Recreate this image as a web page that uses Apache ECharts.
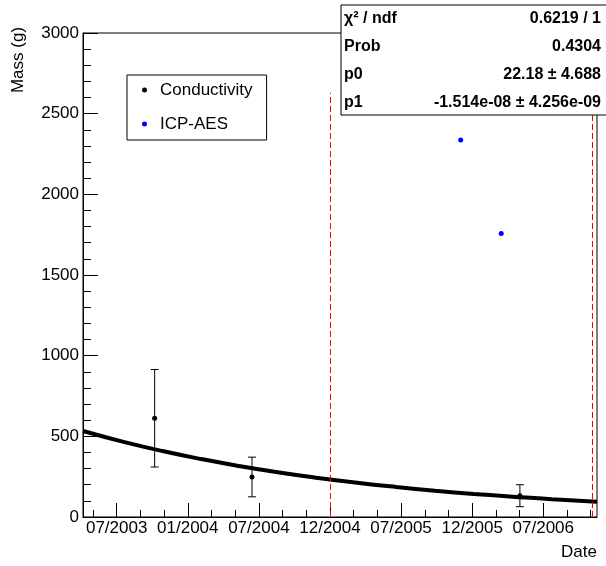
<!DOCTYPE html>
<html>
<head>
<meta charset="utf-8">
<script src="https://cdn.jsdelivr.net/npm/echarts@6/dist/echarts.min.js"></script>
<style>
html,body{margin:0;padding:0;background:#fff;}
#chart{width:606px;height:566px;}
</style>
</head>
<body>
<div id="chart"></div>
<script>
// ---- data (dates) ----
const axisStart = '2003-04-07';
const axisEnd = '2006-11-17';
const condDates = ['2003-10-08', '2004-06-14', '2006-05-03'];
const condMass = [612, 248, 132];
const condErr = [302, 123, 68];
const icpDates = ['2005-12-02', '2006-03-16'];
const icpMass = [2337, 1758];
const lineDates = ['2005-01-01', '2006-11-04'];
const lineTop = 2630;
// fit curve: [days since 2003-01-01, mass]
const fitDays = [96, 200, 300, 400, 500, 600, 700, 800, 900, 1000, 1100, 1200, 1300, 1416];
const fitMass = [533, 466, 409, 359, 315, 276, 242, 212, 186, 163, 143, 126, 110, 95];
const tickLabels = ['07/2003', '01/2004', '07/2004', '12/2004', '07/2005', '12/2005', '07/2006'];
const firstTickDay = 182.5;
const tickStepDays = 182.6;
const statsRows = [
  ['\u03C7\u00B2 / ndf', '0.6219 / 1'],
  ['Prob', '0.4304'],
  ['p0', '22.18 \u00B1 4.688'],
  ['p1', '-1.514e-08 \u00B1 4.256e-09']
];

// ---- helpers ----
const ref = Date.UTC(2003, 0, 1);
function toDay(s) {
  const p = s.split('-').map(Number);
  return (Date.UTC(p[0], p[1] - 1, p[2]) - ref) / 86400000;
}
const xMin = toDay(axisStart), xMax = toDay(axisEnd);
const majorTicks = tickLabels.map((_, i) => firstTickDay + i * tickStepDays);
const minorTicks = [];
for (let i = -1; i < tickLabels.length; i++) {
  for (let j = 1; j <= 2; j++) {
    const v = firstTickDay + (i + j / 3) * tickStepDays;
    if (v > xMin && v < xMax) minorTicks.push(v);
  }
}
function labelFor(v) {
  let best = 0, bd = Infinity;
  majorTicks.forEach((t, i) => { const d = Math.abs(t - v); if (d < bd) { bd = d; best = i; } });
  return tickLabels[best];
}

const FONT = '"Liberation Sans", Arial, Helvetica, sans-serif';
const condData = condDates.map((d, i) => [toDay(d), condMass[i]]);
const condErrData = condDates.map((d, i) => [toDay(d), condMass[i], condErr[i]]);
const icpData = icpDates.map((d, i) => [toDay(d), icpMass[i]]);
const fitData = fitDays.map((d, i) => [d, fitMass[i]]);
const lineMarks = lineDates.map(d => [{ coord: [toDay(d), 0] }, { coord: [toDay(d), lineTop] }]);

const chart = echarts.init(document.getElementById('chart'), null, { renderer: 'canvas' });

const statsGraphics = [{
  type: 'rect', shape: { x: 341, y: 5, width: 270, height: 110 },
  style: { fill: '#fff', stroke: '#000', lineWidth: 1 }, z: 100
}];
statsRows.forEach((r, i) => {
  const y = 19 + i * 28;
  statsGraphics.push({ type: 'text', x: 344, y: y, z: 101,
    style: { text: r[0], font: 'bold 16px ' + FONT, fill: '#000', textAlign: 'left', textVerticalAlign: 'middle' } });
  statsGraphics.push({ type: 'text', x: 601, y: y, z: 101,
    style: { text: r[1], font: 'bold 16px ' + FONT, fill: '#000', textAlign: 'right', textVerticalAlign: 'middle' } });
});

const option = {
  animation: false,
  backgroundColor: '#fff',
  textStyle: { fontFamily: FONT },
  grid: { left: 83, right: 9, top: 33, bottom: 49, show: true, borderColor: '#000', borderWidth: 1, backgroundColor: 'transparent' },
  legend: {
    left: 127, top: 75, orient: 'vertical',
    data: [{ name: 'Conductivity' }, { name: 'ICP-AES' }],
    icon: 'circle', itemWidth: 5, itemHeight: 5, itemGap: 14,
    padding: [5, 14, 6, 15],
    borderColor: '#000', borderWidth: 1, backgroundColor: '#fff',
    textStyle: { fontSize: 17, color: '#000', fontFamily: FONT, lineHeight: 20, padding: [0, 0, 0, 8] }
  },
  xAxis: [{
    type: 'value', min: xMin, max: xMax, position: 'bottom',
    axisLine: { show: true, onZero: false, lineStyle: { color: '#000', width: 1 } },
    axisTick: { show: true, inside: true, length: 14, customValues: majorTicks, lineStyle: { color: '#000', width: 1 } },
    axisLabel: { customValues: majorTicks, formatter: labelFor, fontSize: 17, color: '#000', margin: 3, fontFamily: FONT },
    splitLine: { show: false }
  }, {
    type: 'value', min: xMin, max: xMax, position: 'bottom',
    axisLine: { show: false },
    axisTick: { show: true, inside: true, length: 7, customValues: minorTicks, lineStyle: { color: '#000', width: 1 } },
    axisLabel: { show: false },
    splitLine: { show: false }
  }],
  yAxis: {
    type: 'value', min: 0, max: 3000, interval: 500,
    axisLine: { show: true, lineStyle: { color: '#000', width: 1 } },
    axisTick: { show: true, inside: true, length: 15, lineStyle: { color: '#000', width: 1 } },
    minorTick: { show: true, splitNumber: 5, length: 8, lineStyle: { color: '#000', width: 1 } },
    axisLabel: { fontSize: 17, color: '#000', margin: 4, fontFamily: FONT, formatter: v => String(v) },
    splitLine: { show: false }
  },
  graphic: [
    { type: 'text', x: 18, y: 60, rotation: Math.PI / 2,
      style: { text: 'Mass (g)', font: '17px ' + FONT, fill: '#000', textAlign: 'center', textVerticalAlign: 'middle' } },
    { type: 'text', x: 597, y: 552,
      style: { text: 'Date', font: '17px ' + FONT, fill: '#000', textAlign: 'right', textVerticalAlign: 'middle' } }
  ].concat(statsGraphics),
  series: [
    {
      name: 'fit', type: 'line', data: fitData, smooth: true, showSymbol: false, symbol: 'none',
      lineStyle: { color: '#000', width: 4 }, z: 3, silent: true,
      markLine: {
        silent: true, symbol: ['none', 'none'], label: { show: false },
        lineStyle: { color: '#ff0000', width: 1, type: [6, 3] },
        data: lineMarks
      }
    },
    {
      name: 'errors', type: 'custom', data: condErrData, z: 4, silent: true,
      renderItem: function (params, api) {
        const x = api.value(0), y = api.value(1), e = api.value(2);
        const top = api.coord([x, y + e]);
        const bot = api.coord([x, y - e]);
        const cw = 4;
        const st = { stroke: '#000', lineWidth: 1 };
        return { type: 'group', children: [
          { type: 'line', shape: { x1: top[0], y1: top[1], x2: bot[0], y2: bot[1] }, style: st },
          { type: 'line', shape: { x1: top[0] - cw, y1: top[1], x2: top[0] + cw, y2: top[1] }, style: st },
          { type: 'line', shape: { x1: bot[0] - cw, y1: bot[1], x2: bot[0] + cw, y2: bot[1] }, style: st }
        ] };
      }
    },
    {
      name: 'Conductivity', type: 'scatter', data: condData, symbol: 'circle', symbolSize: 5,
      itemStyle: { color: '#000', opacity: 1 }, z: 5
    },
    {
      name: 'ICP-AES', type: 'scatter', data: icpData, symbol: 'circle', symbolSize: 5,
      itemStyle: { color: '#0000ff', opacity: 1 }, z: 5
    }
  ]
};
chart.setOption(option);
</script>
</body>
</html>
